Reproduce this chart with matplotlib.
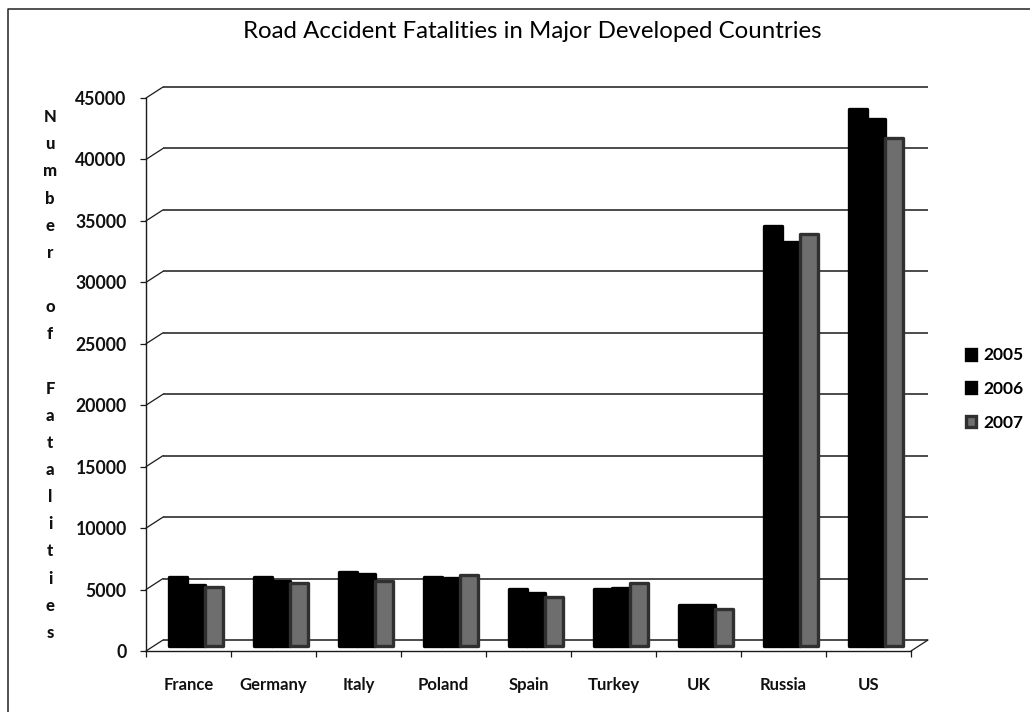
import matplotlib
matplotlib.use("Agg")
import matplotlib.pyplot as plt
from matplotlib.lines import Line2D
from matplotlib.patches import ConnectionPatch
from matplotlib.transforms import offset_copy

countries = ["France", "Germany", "Italy", "Poland", "Spain", "Turkey", "UK", "Russia", "US"]
y2005 = [5610, 5640, 6040, 5640, 4650, 4600, 3320, 34200, 43700]
y2006 = [4960, 5290, 5840, 5540, 4300, 4750, 3320, 32900, 42900]
y2007 = [4790, 5090, 5320, 5740, 3950, 5100, 3040, 33500, 41300]
yticks = [0, 5000, 10000, 15000, 20000, 25000, 30000, 35000, 40000, 45000]
axis_letters = "N\nu\nm\nb\ne\nr\n\no\nf\n\nF\na\nt\na\nl\ni\nt\ni\ne\ns"

W, H = 1030, 712
plt.rcParams["font.family"] = ["Lato", "DejaVu Sans"]
line_col = "#1a1a1a"

fig = plt.figure(figsize=(W / 100, H / 100), dpi=100, facecolor="white")
ax = fig.add_axes([146 / W, 1 - 651 / H, (911 - 146) / W, (651 - 98) / H])
ax.set_xlim(-0.5, 8.5)
ax.set_ylim(0, 45000)
ax.patch.set_visible(False)

# excel style fake 3d: back wall and bars are shifted copies of the data transform
back = offset_copy(ax.transData, fig=fig, x=17, y=11, units="dots")
front_bars = offset_copy(ax.transData, fig=fig, x=7.5, y=5, units="dots")

ax.hlines(yticks, -0.5, 8.5, transform=back, color=line_col, lw=1.1, zorder=1, clip_on=False)
for v in yticks:
    con = ConnectionPatch((-0.5, v), (-0.5, v), coordsA=ax.transData, coordsB=back,
                          color=line_col, lw=0.9, zorder=1)
    ax.add_artist(con)
con = ConnectionPatch((8.5, 0), (8.5, 0), coordsA=ax.transData, coordsB=back,
                      color=line_col, lw=0.9, zorder=1)
ax.add_artist(con)

width = 0.205
series = [("2005", y2005, "#000000", "#000000"),
          ("2006", y2006, "#000000", "#000000"),
          ("2007", y2007, "#6e6e6e", "#303030")]
for i, (name, vals, col, edge) in enumerate(series):
    xs = [k + (i - 1) * width * 1.03 for k in range(len(countries))]
    ax.bar(xs, vals, width, color=col, edgecolor=edge, linewidth=2.4, joinstyle="round",
           transform=front_bars, label=name, zorder=3 + i, clip_on=False)

for s in ["top", "right"]:
    ax.spines[s].set_visible(False)
for s in ["left", "bottom"]:
    ax.spines[s].set_color(line_col)
    ax.spines[s].set_linewidth(1.0)
    ax.spines[s].set_zorder(2)

ax.set_yticks(yticks)
ax.set_yticklabels([str(v) for v in yticks], fontsize=12.7, fontweight="bold", color="#111111")
ax.set_xticks([k - 0.5 for k in range(len(countries) + 1)])
ax.set_xticklabels([])
ax.set_xticks(range(len(countries)), minor=True)
ax.set_xticklabels(countries, minor=True, fontsize=12, fontweight="bold", color="#111111")
ax.tick_params(axis="x", which="major", length=4, width=0.9, color=line_col)
ax.tick_params(axis="x", which="minor", length=0, pad=19)
ax.tick_params(axis="y", length=4, width=0.9, color=line_col, pad=10)

fig.text(532 / W, 1 - 32 / H, "Road Accident Fatalities in Major Developed Countries",
         ha="center", va="center", fontsize=17.3, color="#000000")
fig.text(50 / W, 1 - 375 / H, axis_letters, ha="center", va="center", fontsize=12,
         fontweight="black", color="#111111", linespacing=1.857)

leg = ax.legend(loc="center left", bbox_to_anchor=(966 / W, 1 - 389 / H),
                bbox_transform=fig.transFigure, frameon=False,
                prop={"weight": "bold", "size": 12.5}, handlelength=0.55, handleheight=0.6,
                handletextpad=0.45, labelspacing=1.02, borderpad=0, borderaxespad=0)

# page border, only top and left survive in the scan
fig.add_artist(Line2D([8 / W, 8 / W, 1.0], [0, 1 - 9 / H, 1 - 9 / H],
                      transform=fig.transFigure, color="#222222", lw=1.1))

fig.savefig("out.png", dpi=100)
